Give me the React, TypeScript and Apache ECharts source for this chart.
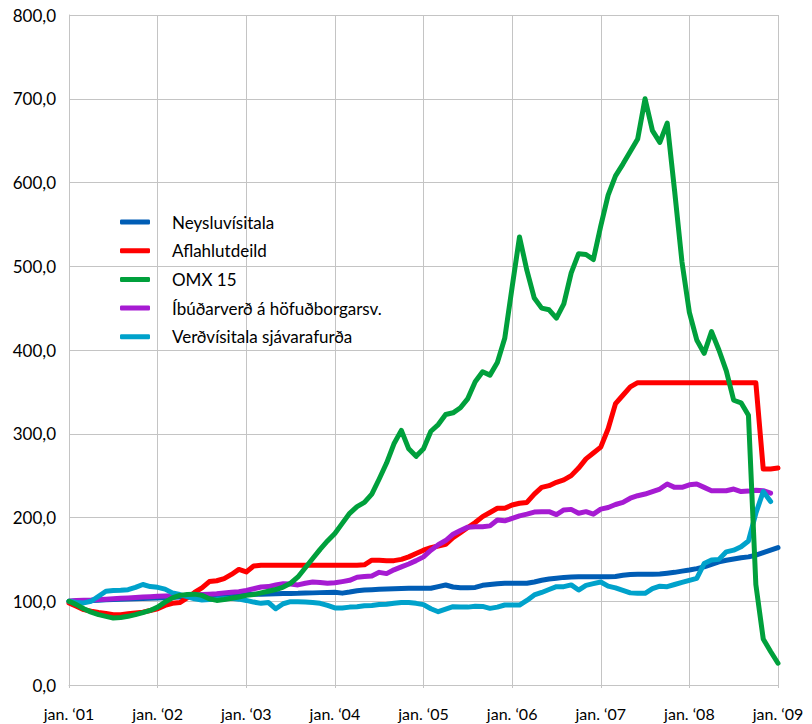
import React, { useEffect, useRef } from "react";
import * as echarts from "echarts";

const years = ["01", "02", "03", "04", "05", "06", "07", "08", "09"];
const monthNames = ["jan.", "feb.", "mar.", "apr.", "maí", "jún.", "júl.", "ágú.", "sep.", "okt.", "nóv.", "des."];
const xTickLabels = years.map((y) => `jan. \u2018${y}`);
const categories: string[] = [];
for (let i = 0; i <= 96; i++) {
  categories.push(`${monthNames[i % 12]} \u2018${years[Math.floor(i / 12)]}`);
}

const seriesNames = [
  "Neysluvísitala",
  "Aflahlutdeild",
  "OMX 15",
  "Íbúðarverð á höfuðborgarsv.",
  "Verðvísitala sjávarafurða",
];

const neysluvisitala = [
  100, 100.3, 100.7, 101, 101.3, 101.7, 102, 102.3, 102.7, 103, 103.3, 103.7, 104,
  104.3, 104.7, 105, 105.3, 105.7, 106, 106.3, 106.7, 107, 107.3, 107.7, 108,
  108.3, 108.5, 108.8, 109, 109.2, 109.4, 109.5, 109.8, 110, 110.3, 110.5, 110.7,
  109.7, 111, 112.5, 113.4, 113.8, 114.2, 114.6, 115, 115.2, 115.4, 115.4, 115.4,
  115.5, 117.5, 119.4, 117, 116.2, 116.2, 116.5, 119, 120, 121, 121.4, 121.4,
  121.4, 121.4, 123, 125, 126.5, 127.5, 128.5, 129, 129.3, 129.3, 129.3, 129.3,
  129.3, 129.5, 131, 132, 132.1, 132.1, 132.1, 132.5, 133.5, 134.5, 136, 137.3,
  139, 141, 144, 147, 149, 150.5, 152, 153, 155, 158, 161, 164,
];

const aflahlutdeild = [
  98, 94, 90, 88, 86.5, 85.5, 84, 84, 85, 86, 87, 89, 91,
  95, 97.5, 98.5, 104, 110.5, 116, 123.5, 124.5, 127, 132, 138, 135, 142,
  143, 143, 143, 143, 143, 143, 143, 143, 143, 143, 143, 143, 143, 143, 143.5,
  149, 149, 148.5, 148.5, 150, 153, 157, 161, 164, 166, 168,
  176, 182, 188, 194, 201, 206, 211, 211, 215, 217, 218,
  228, 236, 238, 242, 245, 250, 259, 270, 277, 284, 306, 336, 346, 356, 361,
  361, 361, 361, 361, 361, 361, 361, 361, 361, 361, 361, 361, 361, 361, 361, 361,
  258, 258, 259,
];

const omx15 = [
  100, 96, 91, 87, 84, 82, 80, 80.5, 82, 84, 86.5, 89, 93,
  99, 104, 107, 108, 108.5, 107, 103, 101, 102, 103.5, 105, 107,
  108, 110, 112, 114, 117, 121.5, 129, 140, 151, 162, 172, 181,
  193, 205, 213, 218, 228, 246, 265, 288, 304, 282, 273, 282,
  303, 311, 323, 325, 331, 342, 362, 374, 370, 385, 414, 475,
  535, 495, 462, 450, 448, 438, 455, 492, 515, 514, 508, 548,
  585, 608, 622, 637, 652, 700, 662, 648, 671, 590, 505, 445,
  412, 396, 422, 400, 375, 340, 337, 322, 120, 55, 40, 26,
];

const ibudarverd = [
  100, 101, 101.3, 101.5, 102, 102.5, 103, 103.5, 104, 104.5, 105, 105.5, 106,
  106.3, 106.5, 106.8, 107, 107.5, 108, 108.5, 109, 110, 110.8, 111.5, 113,
  115, 117, 117.5, 119.5, 121, 120.5, 119.5, 121.5, 123, 122.5, 121.5, 122,
  123.4, 125, 128.6, 129.5, 130.1, 134.5, 133, 137.5, 141, 144.5, 148.5, 153,
  161, 167.5, 172.5, 180, 184.5, 188.5, 189, 189, 190, 197, 196, 199,
  202, 204, 206.5, 207, 207, 203.5, 209, 209.7, 205, 207, 204, 210,
  212, 215.5, 218, 223, 226, 228, 231, 234, 240, 236, 236, 239,
  240, 236, 232, 232, 232, 234, 231, 231.5, 232.5, 232, 229, null,
];

const verdvisitala = [
  100, 98.5, 98, 100, 106, 112, 112.8, 113.2, 113.8, 116.5, 120, 117.5, 116.6,
  114.5, 110, 108, 105.5, 103, 101.5, 102, 102.3, 103, 103.5, 102.5, 101,
  99, 97.5, 98.5, 91, 97, 99.5, 99.3, 99, 98.5, 97.5, 95, 92,
  92, 93, 93.5, 94.5, 95, 96, 96.5, 97.5, 98.5, 98.5, 97.5, 96,
  91, 87.5, 90.5, 93.5, 93, 93, 94, 93.8, 91.5, 93, 95.5, 95.5,
  95.5, 101, 107.5, 110.5, 114, 117.4, 117.4, 119.5, 113.4, 119, 121, 123,
  118, 116, 113, 110, 109.5, 109.5, 115, 118, 117.4, 120, 122.5, 125,
  127.4, 145, 149.3, 150, 159, 161, 165, 172, 205, 231, 219, null,
];

const seriesData = [neysluvisitala, aflahlutdeild, omx15, ibudarverd, verdvisitala];
const colors = ["#005DB5", "#FF0000", "#00A03C", "#A61BD2", "#00A2CB"];
const zOrder = [2, 3, 6, 4, 5];

const FONT = "Lato";

export default function App() {
  const ref = useRef<HTMLDivElement>(null);
  useEffect(() => {
    if (!ref.current) return;
    const chart = echarts.init(ref.current, undefined, { renderer: "svg" });
    const gridColor = "#C4C4C4";
    chart.setOption({
      animation: false,
      backgroundColor: "#ffffff",
      textStyle: { fontFamily: FONT },
      grid: { left: 69, right: 34, top: 15, bottom: 39, containLabel: false, outerBoundsMode: "none" },
      legend: {
        orient: "vertical",
        left: 120,
        top: 212,
        padding: 0,
        itemGap: 8.7,
        itemWidth: 30,
        itemHeight: 5,
        icon: "roundRect",
        textStyle: { fontFamily: FONT, fontSize: 17, color: "#000", lineHeight: 20, padding: [0, 0, 0, 17] },
        data: seriesNames,
      },
      xAxis: {
        type: "category",
        data: categories,
        boundaryGap: false,
        axisLine: { show: true, lineStyle: { color: gridColor, width: 1 } },
        axisTick: { show: true, interval: 11, length: 3, lineStyle: { color: gridColor } },
        axisLabel: {
          interval: 11,
          margin: 20,
          fontFamily: FONT,
          fontSize: 16,
          color: "#000",
          formatter: (v: string, i: number) => (i % 12 === 0 ? xTickLabels[i / 12] : ""),
        },
        splitLine: { show: true, interval: 11, lineStyle: { color: gridColor, width: 1 } },
      },
      yAxis: {
        type: "value",
        min: 0,
        max: 800,
        interval: 100,
        axisLine: { show: true, lineStyle: { color: gridColor, width: 1 } },
        axisTick: { show: false },
        axisLabel: {
          margin: 13,
          fontFamily: FONT,
          fontSize: 17,
          color: "#000",
          formatter: (v: number) => v.toFixed(1).replace(".", ","),
        },
        splitLine: { show: true, lineStyle: { color: gridColor, width: 1 } },
      },
      series: seriesNames.map((name, i) => ({
        name,
        type: "line",
        data: seriesData[i],
        showSymbol: false,
        symbol: "none",
        z: zOrder[i],
        color: colors[i],
        lineStyle: { color: colors[i], width: 5, cap: "round", join: "round" },
      })),
    });
    return () => chart.dispose();
  }, []);
  return (
    <div
      ref={ref}
      style={{ position: "fixed", left: 0, top: 0, width: 812, height: 724, background: "#fff" }}
    />
  );
}
